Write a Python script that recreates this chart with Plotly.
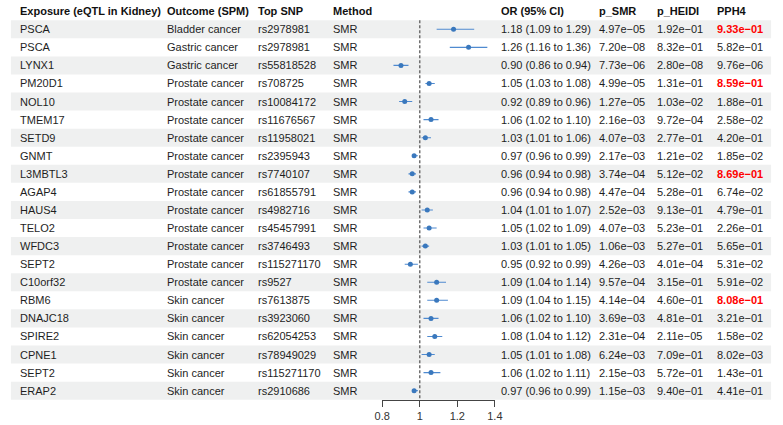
import plotly.graph_objects as go

exposure = ["PSCA", "PSCA", "LYNX1", "PM20D1", "NOL10", "TMEM17", "SETD9", "GNMT", "L3MBTL3", "AGAP4",
            "HAUS4", "TELO2", "WFDC3", "SEPT2", "C10orf32", "RBM6", "DNAJC18", "SPIRE2", "CPNE1", "SEPT2", "ERAP2"]
outcome = ["Bladder cancer", "Gastric cancer", "Gastric cancer"] + ["Prostate cancer"] * 12 + ["Skin cancer"] * 6
snp = ["rs2978981", "rs2978981", "rs55818528", "rs708725", "rs10084172", "rs11676567", "rs11958021", "rs2395943",
       "rs7740107", "rs61855791", "rs4982716", "rs45457991", "rs3746493", "rs115271170", "rs9527", "rs7613875",
       "rs3923060", "rs62054253", "rs78949029", "rs115271170", "rs2910686"]
method = ["SMR"] * 21
or_val = [1.18, 1.26, 0.90, 1.05, 0.92, 1.06, 1.03, 0.97, 0.96, 0.96, 1.04, 1.05, 1.03, 0.95, 1.09, 1.09, 1.06, 1.08, 1.05, 1.06, 0.97]
or_lo = [1.09, 1.16, 0.86, 1.03, 0.89, 1.02, 1.01, 0.96, 0.94, 0.94, 1.01, 1.02, 1.01, 0.92, 1.04, 1.04, 1.02, 1.04, 1.01, 1.02, 0.96]
or_hi = [1.29, 1.36, 0.94, 1.08, 0.96, 1.10, 1.06, 0.99, 0.98, 0.98, 1.07, 1.09, 1.05, 0.99, 1.14, 1.15, 1.10, 1.12, 1.08, 1.11, 0.99]
p_smr = [4.97e-05, 7.20e-08, 7.73e-06, 4.99e-05, 1.27e-05, 2.16e-03, 4.07e-03, 2.17e-03, 3.74e-04, 4.47e-04, 2.52e-03,
         4.07e-03, 1.06e-03, 4.26e-03, 9.57e-04, 4.14e-04, 3.69e-03, 2.31e-04, 6.24e-03, 2.15e-03, 1.15e-03]
p_heidi = [1.92e-01, 8.32e-01, 2.80e-08, 1.31e-01, 1.03e-02, 9.72e-04, 2.77e-01, 1.21e-02, 5.12e-02, 5.28e-01, 9.13e-01,
           5.23e-01, 5.27e-01, 4.01e-04, 3.15e-01, 4.60e-01, 4.81e-01, 2.11e-05, 7.09e-01, 5.72e-01, 9.40e-01]
pph4 = [9.33e-01, 5.82e-01, 9.76e-06, 8.59e-01, 1.88e-01, 2.58e-02, 4.20e-01, 1.85e-02, 8.69e-01, 6.74e-02, 4.79e-01,
        2.26e-01, 5.65e-01, 5.31e-02, 5.91e-02, 8.08e-01, 3.21e-01, 1.58e-02, 8.02e-03, 1.43e-01, 4.41e-01]
headers = ["Exposure (eQTL in Kidney)", "Outcome (SPM)", "Top SNP", "Method", "OR (95% CI)", "p_SMR", "p_HEIDI", "PPH4"]
x_ticks = [0.8, 1, 1.2, 1.4]
x_ticktext = ["0.8", "1", "1.2", "1.4"]

W, H = 783, 425
n = len(exposure)
rows = list(range(1, n + 1))

col_x = [11, 161, 254, 331, 502, 602, 662, 723]
FONT = "Liberation Sans, Arial, sans-serif"
TXT = "#1e1e1e"


def sci(v):
    return ("%.2e" % v).replace("-", "\u2212")


fig = go.Figure()

shapes = []
for r in rows:
    if r % 2 == 1:
        shapes.append(dict(type="rect", xref="paper", yref="y", x0=3 / W, x1=779 / W,
                           y0=r - 0.5, y1=r + 0.5, fillcolor="#eff0f0", line=dict(width=0), layer="below"))
shapes.append(dict(type="line", xref="x", yref="y", x0=1, x1=1, y0=0.5, y1=n + 0.5,
                   line=dict(color="#707070", width=1.5, dash="3px,2px"), layer="below"))

fig.add_trace(go.Scatter(
    x=or_val, y=rows, mode="markers",
    marker=dict(color="#3a78bd", size=5),
    error_x=dict(type="data", symmetric=False,
                 array=[h - o for h, o in zip(or_hi, or_val)],
                 arrayminus=[o - l for o, l in zip(or_val, or_lo)],
                 color="#4f8ad0", thickness=1.1, width=0),
    cliponaxis=False, showlegend=False, hoverinfo="skip"))

ann = []
for c, h in enumerate(headers):
    ann.append(dict(x=col_x[c] / W, y=0, xref="paper", yref="y", text="<b>%s</b>" % h, showarrow=False,
                    xanchor="left", yanchor="middle", borderpad=0,
                    font=dict(family=FONT, size=11, color="#111111")))
for i, r in enumerate(rows):
    vals = [exposure[i], outcome[i], snp[i], method[i],
            "%.2f (%.2f to %.2f)" % (or_val[i], or_lo[i], or_hi[i]),
            sci(p_smr[i]), sci(p_heidi[i])]
    for c, v in enumerate(vals):
        ann.append(dict(x=col_x[c] / W, y=r, xref="paper", yref="y", text=v, showarrow=False,
                        xanchor="left", yanchor="middle", borderpad=0,
                        font=dict(family=FONT, size=11, color=TXT)))
    p = pph4[i]
    if p > 0.8:
        t, col = "<b>%s</b>" % sci(p), "#ff0000"
    else:
        t, col = sci(p), TXT
    ann.append(dict(x=col_x[7] / W, y=r, xref="paper", yref="y", text=t, showarrow=False,
                    xanchor="left", yanchor="middle", borderpad=0,
                    font=dict(family=FONT, size=11, color=col)))

row_px = 18.07
top_px = 11.2
y_top = -top_px / row_px
y_bot = (400 - top_px) / row_px

fig.update_layout(
    width=W, height=H, margin=dict(l=0, r=0, t=0, b=0),
    paper_bgcolor="white", plot_bgcolor="rgba(0,0,0,0)",
    shapes=shapes, annotations=ann,
    xaxis=dict(domain=[382 / W, 497 / W], range=[0.8, 1.4], tickvals=x_ticks, ticktext=x_ticktext,
               showgrid=False, zeroline=False, showline=True, linecolor="#444444", linewidth=1,
               ticks="outside", ticklen=6, tickcolor="#444444", tickwidth=1,
               tickfont=dict(family=FONT, size=11, color="#333333"), fixedrange=True),
    yaxis=dict(domain=[(H - 400) / H, 1], range=[y_bot, y_top], showgrid=False, zeroline=False,
               showline=False, showticklabels=False, ticks="", fixedrange=True),
    font=dict(family=FONT),
)

fig.write_html("out.html")
